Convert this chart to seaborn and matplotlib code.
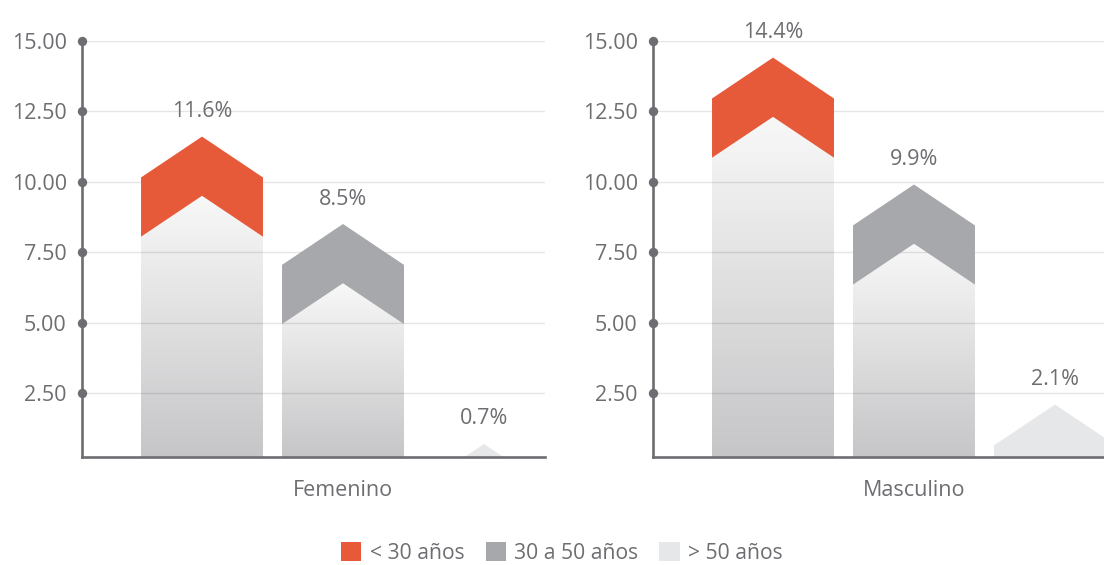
import numpy as np
import matplotlib
matplotlib.use("Agg")
import matplotlib.pyplot as plt
from matplotlib.patches import Polygon, Patch
from matplotlib.colors import LinearSegmentedColormap
import seaborn as sns

generos = ["Femenino", "Masculino"]
grupos = ["< 30 años", "30 a 50 años", "> 50 años"]
femenino = [11.6, 8.5, 0.7]
masculino = [14.4, 9.9, 2.1]
colores = ["#e65a3a", "#a7a8ab", "#e6e7e8"]
yticks = [2.5, 5.0, 7.5, 10.0, 12.5, 15.0]

sns.set_theme(style="white")
plt.rcParams["font.family"] = ["Open Sans", "DejaVu Sans"]

gris = "#6d6e71"
ancho = 0.865
pico = 1.45   # altura del triangulo de la flecha
banda = 2.1   # grosor de la franja de color
fondo = -5
ymin, ymax = 0.25, 15
xmin, xmax = -0.851, 2.433

degradado = LinearSegmentedColormap.from_list("deg", ["#c6c6c8", "#f8f8f8"])
rampa = np.linspace(0, 1, 256).reshape(-1, 1)

fig = plt.figure(figsize=(11.04, 5.65), dpi=100)
posiciones = [[0.0743, 0.1917, 0.4194, 0.7363], [0.5915, 0.1917, 0.4194, 0.7363]]

for pos, genero, valores in zip(posiciones, generos, [femenino, masculino]):
    ax = fig.add_axes(pos)
    for i, (v, c) in enumerate(zip(valores, colores)):
        x0, x1 = i - ancho / 2, i + ancho / 2
        t = v - banda
        franja = [(x0, v - pico), (i, v), (x1, v - pico),
                  (x1, t - pico), (i, t), (x0, t - pico)]
        ax.add_patch(Polygon(franja, closed=True, fc=c, ec="none", zorder=3))
        if t > ymin:
            cuerpo = Polygon([(x0, fondo), (x0, t - pico), (i, t), (x1, t - pico), (x1, fondo)],
                             closed=True, fc="none", ec="none")
            ax.add_patch(cuerpo)
            im = ax.imshow(rampa, extent=[x0, x1, ymin, t], origin="lower", aspect="auto",
                           cmap=degradado, zorder=1, interpolation="bilinear")
            im.set_clip_path(cuerpo)
        ax.annotate(f"{v}%", (i, v), xytext=(0, 18), textcoords="offset points",
                    ha="center", va="center", color=gris, fontsize=15.5)

    ax.set_xlim(xmin, xmax)
    ax.set_ylim(ymin, ymax)
    ax.set_axisbelow("line")
    ax.yaxis.grid(True, color="black", alpha=0.1, lw=1)
    ax.set_yticks(yticks)
    ax.set_yticklabels([f"{y:.2f}" for y in yticks])
    ax.set_xticks([1])
    ax.set_xticklabels([genero])
    ax.tick_params(axis="y", length=0, pad=11, labelcolor=gris, labelsize=15.5)
    ax.tick_params(axis="x", length=0, pad=17, labelcolor=gris, labelsize=15.5)
    for lado in ["top", "right"]:
        ax.spines[lado].set_visible(False)
    for lado in ["left", "bottom"]:
        ax.spines[lado].set_color(gris)
        ax.spines[lado].set_linewidth(1.9)
        ax.spines[lado].set_zorder(4)
    ax.scatter([xmin] * len(yticks), yticks, s=33, color=gris, clip_on=False, zorder=5)

fig.legend(handles=[Patch(fc=c, ec="none", label=g) for c, g in zip(colores, grupos)],
           loc="center", bbox_to_anchor=(0.509, 0.021), ncol=3, frameon=False,
           fontsize=15.2, handlelength=0.96, handleheight=0.96, handletextpad=0.4,
           columnspacing=1.0, labelcolor=gris)

fig.savefig("out.png", dpi=100)
